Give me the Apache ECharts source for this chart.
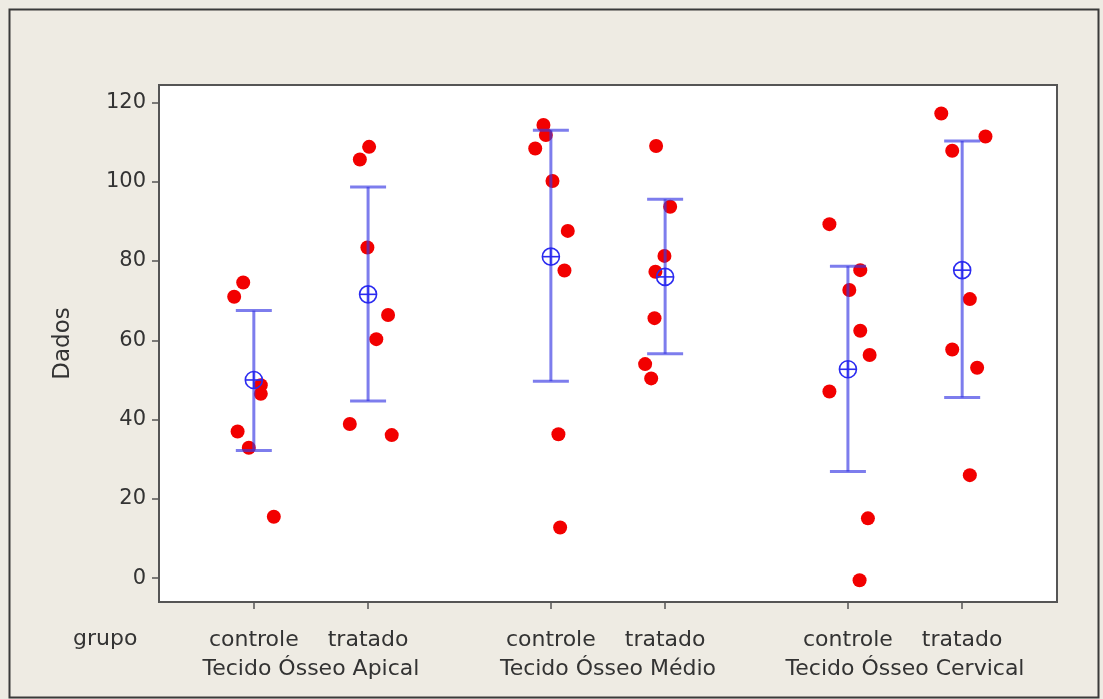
<!DOCTYPE html>
<html>
<head>
<meta charset="utf-8">
<title>Dados por grupo</title>
<script src="https://cdn.jsdelivr.net/npm/echarts@6/dist/echarts.min.js"></script>
<style>
  html, body { margin: 0; padding: 0; background: #eeebe3; }
  #chart { width: 1103px; height: 699px; }
</style>
</head>
<body>
<div id="chart"></div>
<script>
// Group labels and their positions on the horizontal scale
const groupNames = ['controle', 'tratado', 'controle', 'tratado', 'controle', 'tratado'];
const groupPositions = [0, 1, 2.6, 3.6, 5.2, 6.2];
const siteNames = ['Tecido Ósseo Apical', 'Tecido Ósseo Médio', 'Tecido Ósseo Cervical'];
const sitePositions = [0.5, 3.1, 5.7];
const yTickValues = [0, 20, 40, 60, 80, 100, 120];

// Individual observations (value) and their horizontal jitter (in group units)
const apicalControle = [74.6, 71.0, 48.7, 46.5, 37.0, 32.9, 15.5];
const apicalControleJitter = [-0.093, -0.172, 0.061, 0.061, -0.142, -0.044, 0.175];
const apicalTratado = [108.8, 105.6, 83.4, 66.4, 60.3, 38.9, 36.1];
const apicalTratadoJitter = [0.009, -0.072, -0.006, 0.175, 0.072, -0.160, 0.207];
const medioControle = [114.3, 111.8, 108.4, 100.2, 87.6, 77.6, 36.3, 12.8];
const medioControleJitter = [-0.065, -0.044, -0.137, 0.014, 0.148, 0.119, 0.066, 0.081];
const medioTratado = [109.0, 93.7, 81.3, 77.3, 65.6, 54.0, 50.4];
const medioTratadoJitter = [-0.079, 0.044, -0.006, -0.085, -0.093, -0.175, -0.122];
const cervicalControle = [89.3, 77.7, 72.7, 62.4, 56.3, 47.1, 15.1, -0.5];
const cervicalControleJitter = [-0.162, 0.108, 0.012, 0.108, 0.190, -0.162, 0.175, 0.102];
const cervicalTratado = [117.2, 111.4, 107.8, 70.4, 57.7, 53.1, 26.0];
const cervicalTratadoJitter = [-0.183, 0.204, -0.087, 0.067, -0.087, 0.131, 0.067];

// Group means and 95% confidence interval limits
const means = [50.0, 71.6, 81.1, 76.0, 52.7, 77.7];
const ciLow = [32.2, 44.7, 49.7, 56.6, 26.9, 45.6];
const ciHigh = [67.5, 98.7, 113.0, 95.6, 78.7, 110.3];

const observations = [apicalControle, apicalTratado, medioControle, medioTratado, cervicalControle, cervicalTratado];
const jitters = [apicalControleJitter, apicalTratadoJitter, medioControleJitter, medioTratadoJitter, cervicalControleJitter, cervicalTratadoJitter];

const pointData = [];
observations.forEach((vals, g) => {
  vals.forEach((v, i) => pointData.push([groupPositions[g] + jitters[g][i], v]));
});
const intervalData = groupPositions.map((p, g) => [p, ciLow[g], ciHigh[g]]);
const meanData = groupPositions.map((p, g) => [p, means[g]]);

function nearestIndex(list, v) {
  let best = 0;
  list.forEach((p, i) => { if (Math.abs(p - v) < Math.abs(list[best] - v)) best = i; });
  return best;
}

const FONT = 'DejaVu Sans';
const TEXT = '#333333';

const chart = echarts.init(document.getElementById('chart'), null, { renderer: 'canvas' });

chart.setOption({
  backgroundColor: '#eeebe3',
  animation: false,
  grid: {
    left: 159, right: 46, top: 85, bottom: 97,
    show: true, backgroundColor: '#ffffff', borderColor: '#555555', borderWidth: 2
  },
  xAxis: [
    {
      type: 'value', min: -0.83, max: 7.03,
      axisLine: { show: true, onZero: false, lineStyle: { color: '#555555', width: 2 } },
      axisTick: { show: true, customValues: groupPositions, length: 7, lineStyle: { color: '#555555', width: 1.5 } },
      axisLabel: {
        customValues: groupPositions, margin: 27,
        color: TEXT, fontFamily: FONT, fontSize: 22,
        formatter: v => groupNames[nearestIndex(groupPositions, v)]
      },
      splitLine: { show: false }
    },
    {
      type: 'value', min: -0.83, max: 7.03, position: 'bottom',
      axisLine: { show: false, onZero: false }, axisTick: { show: false },
      axisLabel: {
        customValues: sitePositions, margin: 56,
        color: TEXT, fontFamily: FONT, fontSize: 22,
        formatter: v => siteNames[nearestIndex(sitePositions, v)]
      },
      splitLine: { show: false }
    }
  ],
  yAxis: {
    type: 'value', min: -6, max: 124.4,
    name: 'Dados', nameLocation: 'middle', nameGap: 84, nameRotate: 90,
    nameTextStyle: { color: TEXT, fontFamily: FONT, fontSize: 23 },
    axisLine: { show: true, onZero: false, lineStyle: { color: '#555555', width: 2 } },
    axisTick: { show: true, customValues: yTickValues, length: 7, lineStyle: { color: '#555555', width: 1.5 } },
    axisLabel: { customValues: yTickValues, margin: 13, color: TEXT, fontFamily: FONT, fontSize: 21 },
    splitLine: { show: false }
  },
  graphic: [
    {
      type: 'rect', left: 7, top: 7, z: -1, silent: true,
      shape: { width: 1089, height: 688 },
      style: { fill: 'none', stroke: '#3a3a3a', lineWidth: 2 }
    },
    {
      type: 'text', left: 73, top: 628,
      style: { text: 'grupo', fill: TEXT, font: '22px "DejaVu Sans"' }
    }
  ],
  series: [
    {
      type: 'scatter', name: 'Dados',
      data: pointData, symbol: 'circle', symbolSize: 14,
      itemStyle: { color: '#f20000', opacity: 1 }, z: 2
    },
    {
      type: 'custom', name: 'IC 95%', z: 3,
      data: intervalData,
      encode: { x: 0, y: [1, 2] },
      renderItem: (params, api) => {
        const lo = api.coord([api.value(0), api.value(1)]);
        const hi = api.coord([api.value(0), api.value(2)]);
        const half = 18;
        const style = { stroke: 'rgba(55,55,228,0.65)', lineWidth: 3 };
        return {
          type: 'group',
          children: [
            { type: 'line', shape: { x1: lo[0], y1: lo[1], x2: hi[0], y2: hi[1] }, style },
            { type: 'line', shape: { x1: hi[0] - half, y1: hi[1], x2: hi[0] + half, y2: hi[1] }, style },
            { type: 'line', shape: { x1: lo[0] - half, y1: lo[1], x2: lo[0] + half, y2: lo[1] }, style }
          ]
        };
      }
    },
    {
      type: 'custom', name: 'Média', z: 4,
      data: meanData,
      encode: { x: 0, y: 1 },
      renderItem: (params, api) => {
        const c = api.coord([api.value(0), api.value(1)]);
        const r = 8.5;
        const style = { stroke: '#2b2bf0', lineWidth: 1.6, fill: 'none' };
        return {
          type: 'group',
          children: [
            { type: 'circle', shape: { cx: c[0], cy: c[1], r }, style },
            { type: 'line', shape: { x1: c[0] - r, y1: c[1], x2: c[0] + r, y2: c[1] }, style },
            { type: 'line', shape: { x1: c[0], y1: c[1] - r, x2: c[0], y2: c[1] + r }, style }
          ]
        };
      }
    }
  ]
});
</script>
</body>
</html>
